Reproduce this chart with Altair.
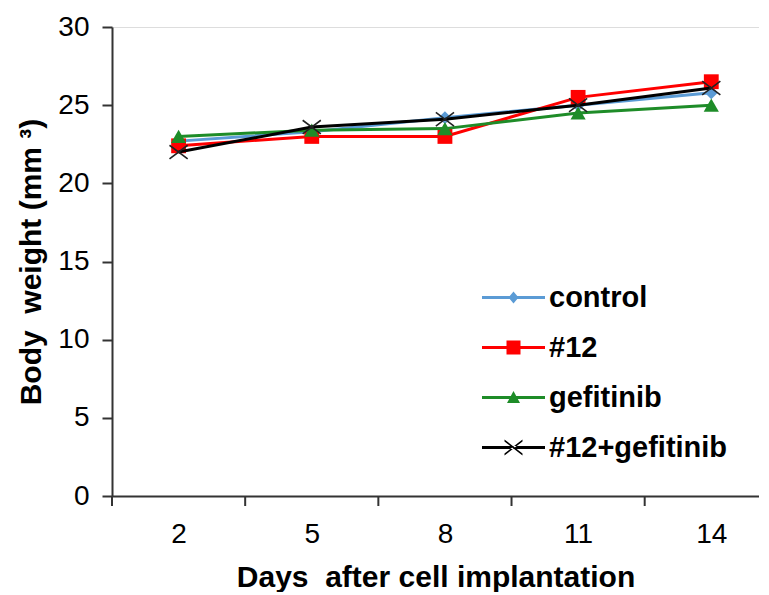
import altair as alt
import pandas as pd

# ---- data ----
days = [2, 5, 8, 11, 14]
series_names = ["control", "#12", "gefitinib", "#12+gefitinib"]
control = [22.7, 23.3, 24.2, 25.0, 25.8]
n12 = [22.4, 23.0, 23.0, 25.5, 26.5]
gefitinib = [23.0, 23.4, 23.5, 24.5, 25.0]
combo = [22.0, 23.6, 24.1, 25.0, 26.1]
y_ticks = [0, 5, 10, 15, 20, 25, 30]
between_ticks = [0.5, 3.5, 6.5, 9.5, 12.5]

# ---- styles ----
colors = ["#5b9bd5", "#ff0000", "#1e8c28", "#000000"]
X_PATH = "M-1,-0.75L1,0.75M-1,0.75L1,-0.75"
marker_shapes = ["diamond", "square", "triangle-up", X_PATH]
marker_sizes = [170, 220, 230, 330]

LINE = "M-6.3,-0.3H6.3V0.3H-6.3Z "
legend_paths = [
    LINE + "M-1,0L0,-1.2L1,0L0,1.2Z",
    LINE + "M-1.4,-1.4H1.4V1.4H-1.4Z",
    LINE + "M-1.3,1.1L0,-1.3L1.3,1.1Z",
    LINE + "M-1.8,-1.6L1.8,1.2L1.8,1.6L-1.8,-1.2Z M-1.8,1.6L1.8,-1.2L1.8,-1.6L-1.8,1.2Z",
]

values = [control, n12, gefitinib, combo]
rows = []
for name, vals in zip(series_names, values):
    for d, v in zip(days, vals):
        rows.append({"day": d, "series": name, "weight": v})
df = pd.DataFrame(rows)
ticks_df = pd.DataFrame({"t": between_ticks})
legend_df = pd.DataFrame({"series": series_names})

FONT = "Liberation Sans"
AXIS_COLOR = "#333333"

x_scale = alt.Scale(domain=[0.5, 15.075], nice=False, zero=False)
x_axis = alt.Axis(
    values=days, tickSize=0, labelPadding=24, labelFontSize=28, labelFont=FONT,
    labelColor="black", title="Days\u00a0 after cell implantation", titleFontSize=30,
    titleFont=FONT, titleFontWeight="bold", titleColor="black", titlePadding=14,
    grid=False, domainColor=AXIS_COLOR, domainWidth=2,
)
y_axis = alt.Axis(
    values=y_ticks, tickSize=10, tickColor=AXIS_COLOR, tickWidth=2, labelPadding=13,
    labelFontSize=28, labelFont=FONT, labelColor="black",
    title="Body\u00a0 weight (mm \u00b3)", titleFontSize=30, titleFont=FONT,
    titleFontWeight="bold", titleColor="black", titlePadding=11,
    grid=False, domainColor=AXIS_COLOR, domainWidth=2,
)
y_scale = alt.Scale(domain=[0, 30], nice=False)

layers = []
for name, c, shp, sz in zip(series_names, colors, marker_shapes, marker_sizes):
    base = alt.Chart(df).transform_filter(alt.datum.series == name)
    layers.append(
        base.mark_line(color=c, strokeWidth=3).encode(
            x=alt.X("day:Q", scale=x_scale, axis=x_axis),
            y=alt.Y("weight:Q", scale=y_scale, axis=y_axis),
        )
    )
    if shp == X_PATH:
        pts = base.mark_point(shape=shp, filled=False, size=sz, color="#222222",
                              strokeWidth=1.6, opacity=1)
    else:
        pts = base.mark_point(shape=shp, filled=True, size=sz, color=c, opacity=1)
    layers.append(
        pts.encode(
            x=alt.X("day:Q", scale=x_scale, axis=x_axis),
            y=alt.Y("weight:Q", scale=y_scale, axis=y_axis),
        )
    )

tick_rules = alt.Chart(ticks_df).mark_rule(color=AXIS_COLOR, strokeWidth=2).encode(
    x=alt.X("t:Q", scale=x_scale, axis=x_axis),
    y=alt.value(469),
    y2=alt.value(479),
)

leg = alt.Legend(
    orient="none", legendX=387, legendY=256, title=None,
    labelFont=FONT, labelFontSize=29, labelFontWeight="bold", labelColor="black",
    labelLimit=0, symbolSize=100, labelOffset=21, rowPadding=20, symbolStrokeWidth=0,
)
legend_layer = alt.Chart(legend_df).transform_filter("false").mark_point(
    filled=True, opacity=1
).encode(
    color=alt.Color("series:N", scale=alt.Scale(domain=series_names, range=colors), legend=leg),
    shape=alt.Shape("series:N", scale=alt.Scale(domain=series_names, range=legend_paths), legend=leg),
)

chart = alt.layer(tick_rules, *layers, legend_layer).properties(
    width=647, height=469,
    padding={"left": 8, "top": 5, "right": 0, "bottom": 0},
).configure_view(stroke=None).configure(font=FONT)

chart.save("out.html", embed_options={"renderer": "svg", "actions": False})
